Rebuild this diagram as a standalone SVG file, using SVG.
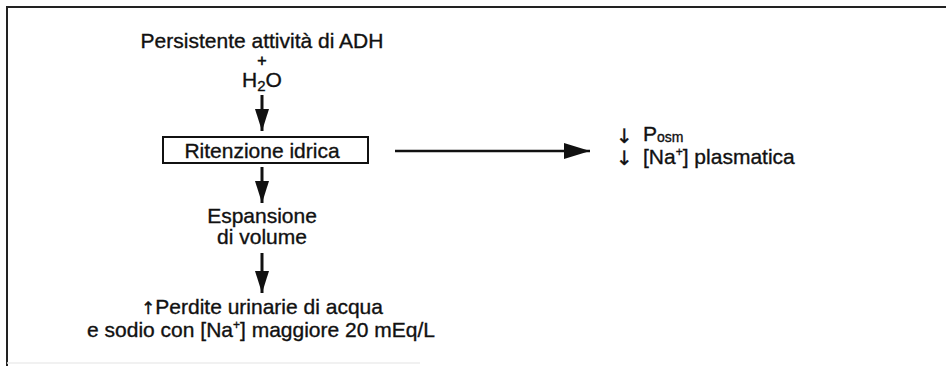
<svg xmlns="http://www.w3.org/2000/svg" width="946" height="366" viewBox="0 0 946 366">
<style>
text{font-family:"Liberation Sans",Arial,sans-serif;font-size:21px;fill:#111;stroke:#111;stroke-width:0.35px}
.c{text-anchor:middle}
.frame{stroke:#222;stroke-width:2;fill:none}
.conn{stroke:#111;stroke-width:3;fill:none}
.box{fill:#fff;stroke:#111;stroke-width:2}
.ar{font-family:"DejaVu Sans",sans-serif;font-size:17px}
.ar2{font-family:"DejaVu Sans",sans-serif;font-size:20px}
</style>
<defs>
<marker id="ah" markerUnits="userSpaceOnUse" markerWidth="22" markerHeight="14" refX="22" refY="7" orient="auto">
<path d="M0,0 L22,7 L0,14 z" fill="#111"/>
</marker>
<marker id="ah2" markerUnits="userSpaceOnUse" markerWidth="26" markerHeight="16" refX="26" refY="8" orient="auto">
<path d="M0,0 L26,8 L0,16 z" fill="#111"/>
</marker>
</defs>
<g id="frame">
<path class="frame" d="M7,366 V7 H946"/>
<path d="M7,363 H420" stroke="#ececec" stroke-width="1.5"/>
</g>
<g id="connectors">
<path class="conn" d="M262,95 V131" marker-end="url(#ah)"/>
<path class="conn" d="M262,167 V203" marker-end="url(#ah)"/>
<path class="conn" d="M262,253 V293" marker-end="url(#ah)"/>
<path class="conn" style="stroke-width:2.5" d="M395,151 H590" marker-end="url(#ah2)"/>
</g>
<g id="n-adh">
<text class="c" x="262" y="47.5">Persistente attività di ADH</text>
<text class="c" x="262" y="66" style="font-size:16px;stroke-width:0.6px">+</text>
<text class="c" x="262" y="86.5">H<tspan font-size="15" dy="4">2</tspan><tspan dy="-4">O</tspan></text>
</g>
<g id="n-ritenzione">
<rect class="box" x="163" y="137" width="205" height="26"/>
<text class="c" x="262" y="157.5">Ritenzione idrica</text>
</g>
<g id="n-espansione">
<text class="c" x="262" y="223">Espansione</text>
<text class="c" x="262" y="244">di volume</text>
</g>
<g id="n-perdite">
<text class="c" x="262" y="314"><tspan class="ar">↑</tspan>Perdite urinarie di acqua</text>
<text class="c" x="261" y="337">e sodio con [Na<tspan font-size="12" dy="-8">+</tspan><tspan dy="8">] maggiore 20 mEq/L</tspan></text>
</g>
<g id="n-effetti">
<text class="ar2" x="616" y="143">↓</text>
<text class="ar2" x="616" y="165">↓</text>
<text x="643" y="141">P<tspan font-size="14" dy="1">osm</tspan></text>
<text x="643" y="164">[Na<tspan font-size="12" dy="-8">+</tspan><tspan dy="8">] plasmatica</tspan></text>
</g>
</svg>
